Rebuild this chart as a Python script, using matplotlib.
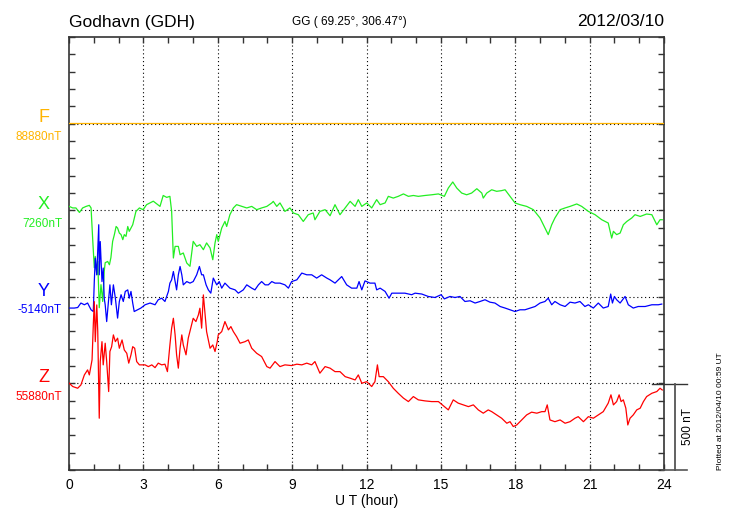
import numpy as np
import matplotlib.pyplot as plt
from matplotlib.lines import Line2D

plt.rcParams['font.family'] = ['Liberation Sans', 'DejaVu Sans']

# Godhavn (GDH) magnetometer, 2012/03/10 (UT hour, nT)
station = "Godhavn (GDH)"
coords = "GG ( 69.25\u00b0, 306.47\u00b0)"
date = "2012/03/10"
plotted = "Plotted at 2012/04/10 00:59 UT"
components = ["F", "X", "Y", "Z"]
base_nt = [88880, 7260, -5140, 55880]

t_f = [0.0, 6.0, 12.0, 18.0, 24.0]
f_nt = [88885, 88885, 88885, 88885, 88885]

t_x = [0.01, 0.15, 0.28, 0.42, 0.55, 0.69, 0.82, 0.89, 0.96, 1.02, 1.06, 1.12, 1.16, 1.22,
       1.29, 1.36, 1.42, 1.46, 1.56, 1.63, 1.69, 1.76, 1.83, 1.90, 1.96, 2.03, 2.10, 2.17,
       2.23, 2.30, 2.37, 2.43, 2.57, 2.70, 2.84, 2.99, 3.13, 3.40, 3.67, 3.80, 3.94, 4.07,
       4.14, 4.21, 4.28, 4.41, 4.48, 4.61, 4.75, 4.88, 5.01, 5.15, 5.28, 5.42, 5.55, 5.69,
       5.80, 5.89, 5.96, 6.02, 6.16, 6.29, 6.36, 6.49, 6.63, 6.76, 6.97, 7.17, 7.37, 7.57,
       7.77, 7.98, 8.18, 8.24, 8.38, 8.51, 8.71, 8.91, 9.05, 9.25, 9.45, 9.65, 9.85, 9.92,
       10.12, 10.33, 10.53, 10.73, 10.93, 11.14, 11.34, 11.54, 11.67, 11.81, 12.01, 12.21,
       12.41, 12.55, 12.75, 12.88, 13.08, 13.28, 13.49, 13.69, 13.89, 14.09, 14.36, 14.63,
       14.90, 15.14, 15.30, 15.48, 15.64, 15.84, 16.04, 16.24, 16.45, 16.65, 16.71, 16.85,
       17.05, 17.25, 17.45, 17.59, 17.79, 17.99, 18.19, 18.46, 18.73, 19.00, 19.20, 19.33,
       19.47, 19.60, 19.81, 20.01, 20.21, 20.48, 20.68, 20.95, 21.22, 21.49, 21.75, 21.89,
       21.96, 22.09, 22.23, 22.36, 22.50, 22.70, 22.83, 23.04, 23.30, 23.51, 23.71, 23.84,
       23.93]
x_nt = [7282, 7273, 7273, 7247, 7273, 7282, 7288, 7273, 7080, 6928, 6993, 6888, 6964, 6697,
        6830, 6733, 6907, 6957, 6964, 6945, 6986, 7080, 7119, 7166, 7157, 7128, 7119, 7090,
        7119, 7109, 7166, 7138, 7176, 7253, 7273, 7263, 7292, 7312, 7282, 7345, 7334, 7340,
        7253, 6984, 7051, 7051, 7003, 7013, 6955, 6936, 7080, 7051, 7061, 7032, 7071, 7042,
        6974, 7071, 7119, 7080, 7157, 7195, 7166, 7234, 7273, 7292, 7282, 7273, 7282, 7263,
        7273, 7282, 7302, 7311, 7282, 7302, 7253, 7273, 7244, 7234, 7195, 7234, 7244, 7205,
        7253, 7263, 7228, 7292, 7234, 7273, 7311, 7282, 7321, 7282, 7302, 7273,
        7321, 7292, 7302, 7340, 7330, 7340, 7354, 7340, 7345, 7340, 7345, 7349,
        7354, 7340, 7388, 7423, 7388, 7359, 7349, 7359, 7384, 7359, 7330, 7359,
        7378, 7369, 7373, 7378, 7340, 7302, 7292, 7282, 7263, 7215, 7157, 7119,
        7176, 7215, 7263, 7273, 7282, 7296, 7282, 7253, 7234, 7205, 7186, 7099,
        7138, 7119, 7128, 7176, 7195, 7215, 7234, 7224, 7238, 7234, 7176, 7205,
        7205]

t_y = [0.01, 0.21, 0.35, 0.48, 0.62, 0.75, 0.89, 0.98, 1.02, 1.06, 1.12, 1.20, 1.22, 1.26,
       1.33, 1.38, 1.42, 1.46, 1.52, 1.60, 1.65, 1.71, 1.79, 1.87, 1.96, 2.03, 2.10, 2.19,
       2.27, 2.37, 2.43, 2.50, 2.57, 2.63, 2.77, 2.90, 3.07, 3.27, 3.47, 3.60, 3.74, 3.87,
       4.01, 4.07, 4.14, 4.21, 4.28, 4.34, 4.41, 4.48, 4.55, 4.61, 4.75, 4.88, 5.01, 5.15,
       5.26, 5.35, 5.42, 5.53, 5.62, 5.72, 5.82, 5.96, 6.06, 6.16, 6.29, 6.49, 6.70, 6.83,
       7.03, 7.17, 7.37, 7.50, 7.64, 7.77, 7.91, 8.04, 8.18, 8.31, 8.51, 8.71, 8.85, 8.98,
       9.19, 9.39, 9.59, 9.79, 9.99, 10.19, 10.40, 10.53, 10.73, 11.00, 11.20, 11.40, 11.61,
       11.70, 11.81, 11.94, 12.14, 12.34, 12.41, 12.55, 12.75, 12.91, 13.02, 13.28, 13.55,
       13.82, 13.96, 14.23, 14.49, 14.76, 15.01, 15.14, 15.37, 15.57, 15.77, 15.97, 16.18,
       16.38, 16.58, 16.78, 16.98, 17.18, 17.39, 17.59, 17.79, 17.99, 18.19, 18.39, 18.60,
       18.80, 19.00, 19.20, 19.33, 19.47, 19.60, 19.81, 20.01, 20.21, 20.41, 20.61, 20.81,
       20.95, 21.15, 21.35, 21.55, 21.75, 21.85, 21.92, 22.00, 22.09, 22.23, 22.43, 22.56,
       22.76, 22.96, 23.24, 23.51, 23.77, 23.91]
y_nt = [-5205, -5205, -5202, -5176, -5186, -5176, -5215, -5225, -5052, -4917, -5013, -4724,
        -5013, -4821, -5052, -4974, -5148, -5186, -5283, -5148, -5071, -5186, -5071, -5148,
        -5263, -5167, -5128, -5167, -5109, -5100, -5148, -5109, -5176, -5225, -5215, -5205,
        -5186, -5176, -5186, -5157, -5148, -5167, -5109, -5061, -5042, -4994, -5052, -5100,
        -5013, -4965, -5013, -5071, -5052, -5061, -5052, -5013, -4965, -5013, -5013, -5071,
        -5100, -5119, -5032, -5071, -5052, -5090, -5061, -5090, -5100, -5119, -5100, -5071,
        -5090, -5100, -5071, -5052, -5071, -5071, -5052, -5061, -5061, -5071, -5090, -5052,
        -5042, -5003, -5013, -5013, -5032, -5013, -5032, -5042, -5061, -5023, -5071, -5090,
        -5090, -5052, -5100, -5048, -5061, -5061, -5100, -5090, -5109, -5148, -5119, -5119,
        -5119, -5128, -5119, -5124, -5138, -5144, -5128, -5152, -5138, -5144, -5138, -5167,
        -5163, -5176, -5167, -5157, -5171, -5176, -5196, -5205, -5215, -5225, -5215, -5215,
        -5205, -5196, -5176, -5167, -5148, -5186, -5167, -5186, -5196, -5171, -5176, -5167,
        -5196, -5186, -5205, -5176, -5205, -5196, -5124, -5176, -5138, -5157, -5176, -5138,
        -5186, -5205, -5196, -5196, -5186, -5186, -5182]

t_z = [0.01, 0.15, 0.35, 0.48, 0.62, 0.75, 0.82, 0.93, 0.98, 1.02, 1.06, 1.12, 1.16, 1.22,
       1.26, 1.33, 1.38, 1.46, 1.52, 1.60, 1.65, 1.72, 1.79, 1.87, 1.96, 2.03, 2.14, 2.23,
       2.33, 2.41, 2.50, 2.57, 2.65, 2.73, 2.84, 3.07, 3.20, 3.34, 3.47, 3.60, 3.74, 3.87,
       3.97, 4.07, 4.14, 4.21, 4.28, 4.34, 4.41, 4.48, 4.55, 4.61, 4.72, 4.81, 4.91, 5.01,
       5.12, 5.22, 5.28, 5.35, 5.42, 5.49, 5.55, 5.69, 5.80, 5.89, 5.98, 6.02, 6.16, 6.29,
       6.43, 6.53, 6.63, 6.76, 6.90, 7.10, 7.23, 7.37, 7.57, 7.77, 7.98, 8.11, 8.31, 8.51,
       8.71, 8.98, 9.19, 9.39, 9.59, 9.79, 9.92, 10.12, 10.33, 10.53, 10.73, 10.93, 11.14,
       11.34, 11.54, 11.67, 11.81, 12.01, 12.21, 12.34, 12.44, 12.51, 12.68, 12.88, 13.08,
       13.28, 13.49, 13.69, 13.89, 14.09, 14.36, 14.63, 14.90, 15.14, 15.30, 15.50, 15.70,
       15.91, 16.11, 16.31, 16.51, 16.71, 16.91, 17.05, 17.25, 17.45, 17.66, 17.79, 17.92,
       18.06, 18.26, 18.46, 18.66, 18.87, 19.07, 19.20, 19.29, 19.40, 19.60, 19.81, 20.01,
       20.21, 20.41, 20.54, 20.75, 20.95, 21.15, 21.35, 21.55, 21.75, 21.86, 21.96, 22.09,
       22.19, 22.27, 22.36, 22.46, 22.54, 22.63, 22.76, 22.90, 23.04, 23.17, 23.30, 23.51,
       23.71, 23.84, 23.93]
z_nt = [55881, 55862, 55852, 55871, 55929, 55958, 55929, 56016, 56218, 56352, 56121, 56333,
        56179, 55679, 56006, 56121, 55987, 56112, 56006, 55833, 56064, 56092, 56160, 56121,
        56141, 56083, 56131, 56073, 56054, 55997, 56045, 56092, 56083, 56006, 55987, 55987,
        55977, 55987, 55971, 55997, 55987, 55991, 55948, 56102, 56199, 56256, 56160, 56045,
        55968, 56083, 56160, 56102, 56045, 56141, 56199, 56256, 56237, 56276, 56314, 56199,
        56391, 56276, 56179, 56083, 56102, 56064, 56121, 56160, 56179, 56237, 56189, 56208,
        56179, 56150, 56112, 56121, 56131, 56083, 56054, 56035, 55977, 55968, 56006, 55977,
        55987, 55983, 55991, 55987, 55997, 55987, 56006, 55939, 55977, 55968, 55948, 55948,
        55919, 55910, 55900, 55929, 55881, 55890, 55862, 55890, 55987, 55919, 55919, 55890,
        55852, 55823, 55795, 55775, 55804, 55785, 55779, 55775, 55775, 55746, 55727, 55785,
        55766, 55756, 55746, 55756, 55727, 55708, 55727, 55717, 55698, 55679, 55650, 55659,
        55631, 55640, 55669, 55698, 55714, 55708, 55717, 55717, 55756, 55669, 55659, 55669,
        55650, 55659, 55679, 55688, 55659, 55688, 55679, 55698, 55717, 55766, 55814, 55756,
        55775, 55814, 55775, 55785, 55737, 55640, 55679, 55698, 55727, 55737, 55775, 55804,
        55823, 55833, 55852, 55842]

colors = ['#ffb400', '#22ee22', '#0000ff', '#ff0000']
offsets = [1500, 1000, 500, 0]   # stacked panels, 500 nT apart
series = [(t_f, f_nt), (t_x, x_nt), (t_y, y_nt), (t_z, z_nt)]

W, H = 730, 520
fig = plt.figure(figsize=(W / 100, H / 100), dpi=100)
ax = fig.add_axes([69 / W, 50 / H, 595 / W, 433 / H])

dot = (0, (1, 2.5))
for h in range(3, 24, 3):
    ax.axvline(h, color='black', lw=0.8, ls=dot, zorder=1)
for off in offsets:
    ax.axhline(off, color='black', lw=0.8, ls=dot, zorder=1)

for (t, v), b, off, c in zip(series, base_nt, offsets, colors):
    ax.plot(t, np.array(v) - b + off, color=c, lw=0.9, zorder=3)

ax.set_xlim(0, 24)
ax.set_ylim(-500, 2000)
ax.set_xticks(range(0, 25, 3))
ax.set_xticks(range(0, 25, 1), minor=True)
ax.set_yticks(np.arange(-500, 2001, 100))
ax.set_yticklabels([])
ax.tick_params(which='both', direction='in', top=True, right=True,
               length=4, width=1, color='#333333')
ax.tick_params(axis='x', labelsize=10, pad=6)
ax.set_xlabel('U T (hour)', fontsize=10, labelpad=1)
for s in ax.spines.values():
    s.set_color('#333333')
    s.set_linewidth(1.2)

# header
fig.text(69 / W, 1 - 22 / H, station, fontsize=12.5, va='center', ha='left')
fig.text(349 / W, 1 - 22 / H, coords, fontsize=8.5, va='center', ha='center')
fig.text(664 / W, 1 - 22 / H, date, fontsize=12.5, va='center', ha='right')

# component labels on the left
letter_y = [118, 205, 291, 378]
value_y = [137, 224, 310, 397]
for name, b, c, ly, vy in zip(components, base_nt, colors, letter_y, value_y):
    fig.text(44 / W, 1 - ly / H, name, fontsize=13, color=c, ha='center', va='center')
    fig.text(62 / W, 1 - vy / H, f'{b}nT', fontsize=8.5, color=c, ha='right', va='center')

# 500 nT scale bar on the right
fig.add_artist(Line2D([652 / W, 687 / W], [1 - 383.5 / H, 1 - 383.5 / H],
                      color='#333333', lw=1.0))
fig.add_artist(Line2D([675 / W, 675 / W], [1 - 383.5 / H, 1 - 470 / H],
                      color='#555555', lw=1.3))
fig.add_artist(Line2D([662 / W, 687 / W], [1 - 470 / H, 1 - 470 / H],
                      color='#555555', lw=1.2))
fig.text(688 / W, 1 - 427 / H, '500 nT', fontsize=8.5, rotation=90,
         ha='center', va='center')
fig.text(720 / W, 1 - 470 / H, plotted, fontsize=6, rotation=90,
         ha='center', va='bottom')

fig.savefig('out.png', dpi=100)
